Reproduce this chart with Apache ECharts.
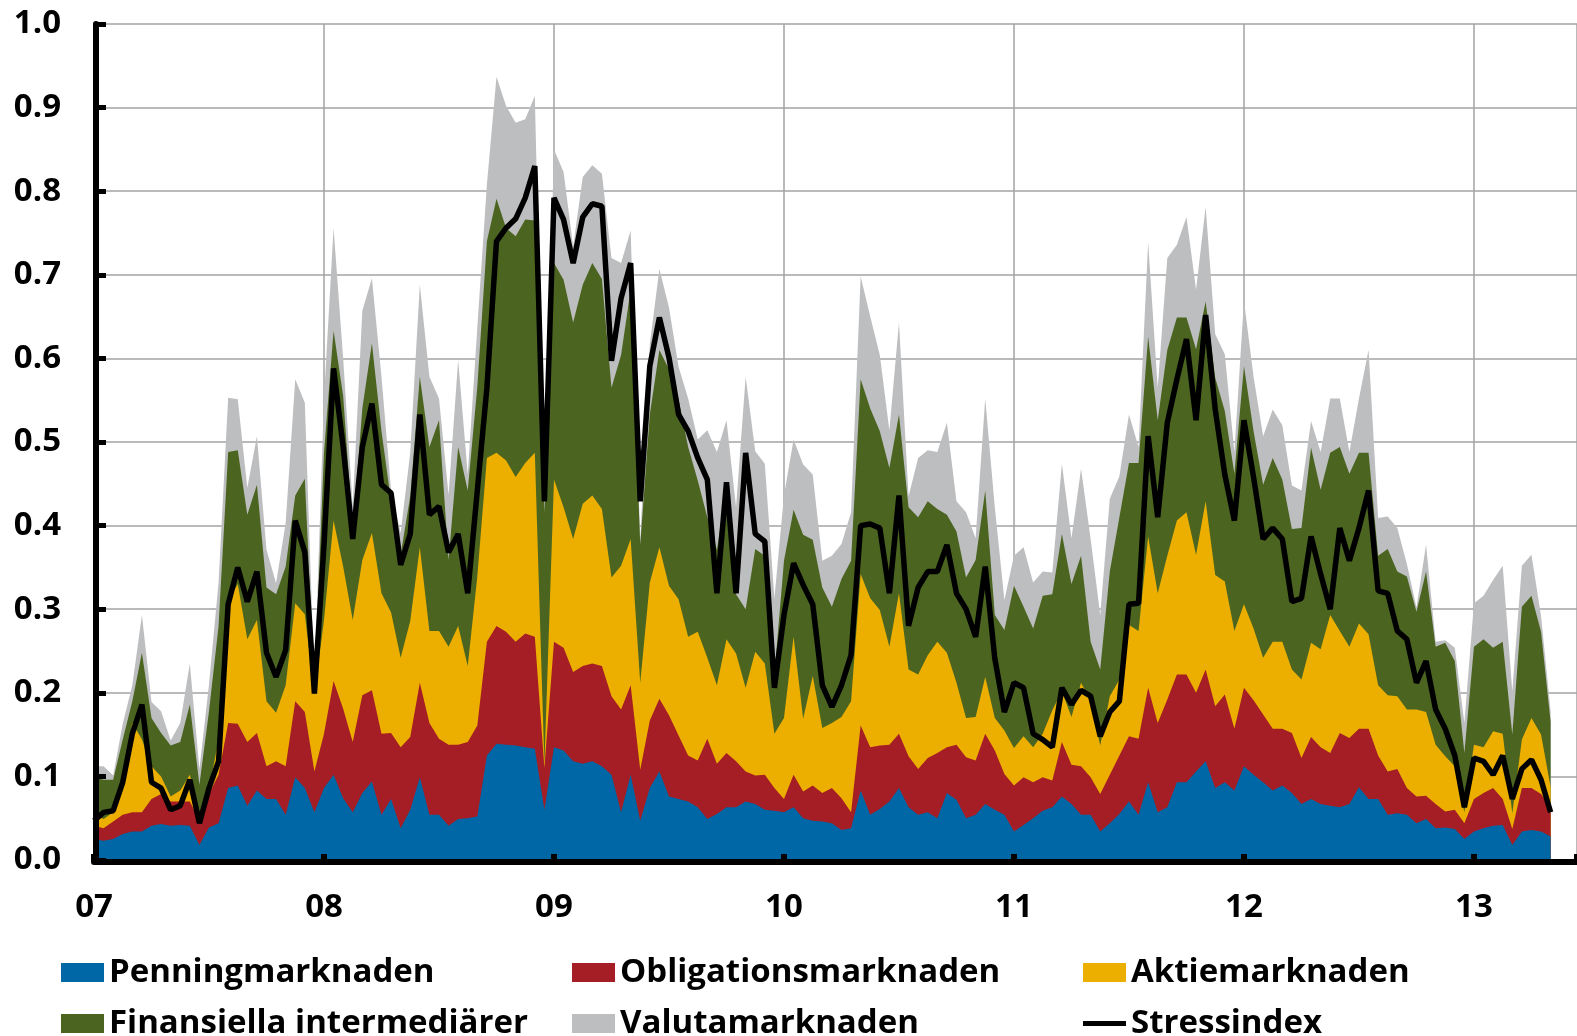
<!DOCTYPE html>
<html><head><meta charset="utf-8">
<script src="https://cdn.jsdelivr.net/npm/echarts@6/dist/echarts.min.js"></script>
<style>html,body{margin:0;padding:0;background:#fff}#c{width:1577px;height:1036px}</style>
</head><body><div id="c"></div>
<script>
// Half-monthly readings, Jan 2007 – mid 2013
const penning = [0.025,0.023,0.025,0.031,0.034,0.034,0.041,0.043,0.041,0.042,
0.041,0.018,0.039,0.044,0.086,0.089,0.065,0.083,0.073,0.073,
0.054,0.099,0.086,0.057,0.086,0.102,0.074,0.057,0.080,0.094,
0.054,0.073,0.038,0.060,0.099,0.054,0.054,0.041,0.049,0.050,
0.052,0.125,0.139,0.138,0.137,0.135,0.133,0.060,0.135,0.131,
0.118,0.115,0.118,0.112,0.102,0.057,0.102,0.047,0.086,0.106,
0.076,0.073,0.070,0.063,0.049,0.055,0.063,0.063,0.070,0.067,
0.060,0.059,0.057,0.063,0.050,0.047,0.046,0.044,0.036,0.038,
0.083,0.054,0.061,0.070,0.086,0.063,0.054,0.057,0.050,0.080,
0.072,0.050,0.054,0.067,0.060,0.054,0.034,0.042,0.050,0.059,
0.063,0.076,0.067,0.054,0.054,0.034,0.044,0.055,0.070,0.054,
0.093,0.057,0.063,0.093,0.093,0.106,0.118,0.086,0.093,0.083,
0.112,0.102,0.093,0.083,0.089,0.080,0.067,0.073,0.067,0.065,
0.063,0.067,0.087,0.073,0.073,0.054,0.056,0.054,0.044,0.049,
0.038,0.039,0.037,0.025,0.034,0.038,0.041,0.042,0.018,0.034,
0.036,0.034,0.028];
const obligation = [0.016,0.015,0.021,0.023,0.023,0.023,0.032,0.036,0.029,0.028,
0.029,0.029,0.040,0.058,0.078,0.074,0.076,0.069,0.039,0.045,
0.058,0.091,0.091,0.049,0.065,0.112,0.107,0.084,0.117,0.109,
0.097,0.079,0.097,0.087,0.113,0.110,0.091,0.097,0.089,0.091,
0.109,0.136,0.141,0.135,0.124,0.136,0.134,0.050,0.126,0.123,
0.107,0.117,0.117,0.120,0.094,0.123,0.107,0.061,0.081,0.087,
0.097,0.076,0.055,0.056,0.096,0.060,0.065,0.055,0.036,0.034,
0.042,0.027,0.016,0.039,0.032,0.042,0.034,0.042,0.038,0.019,
0.078,0.081,0.076,0.068,0.065,0.061,0.055,0.065,0.078,0.055,
0.066,0.073,0.065,0.084,0.071,0.049,0.055,0.057,0.043,0.040,
0.032,0.065,0.047,0.058,0.045,0.045,0.058,0.070,0.078,0.091,
0.113,0.107,0.129,0.129,0.129,0.094,0.110,0.098,0.105,0.074,
0.094,0.089,0.081,0.074,0.068,0.072,0.055,0.074,0.068,0.063,
0.089,0.079,0.070,0.084,0.052,0.052,0.053,0.032,0.032,0.028,
0.029,0.019,0.023,0.019,0.039,0.042,0.045,0.031,0.019,0.052,
0.050,0.045,0.034];
const aktie = [0.013,0.011,0.011,0.032,0.107,0.087,0.039,0.021,0.006,0.013,
0.032,0.004,0.005,0.042,0.146,0.167,0.123,0.135,0.078,0.058,
0.097,0.117,0.117,0.091,0.136,0.192,0.170,0.146,0.162,0.188,
0.168,0.144,0.107,0.139,0.162,0.110,0.129,0.117,0.142,0.091,
0.178,0.220,0.207,0.205,0.197,0.204,0.220,0.005,0.194,0.168,
0.159,0.194,0.201,0.188,0.142,0.172,0.175,0.104,0.165,0.181,
0.155,0.163,0.142,0.154,0.097,0.094,0.136,0.129,0.100,0.148,
0.133,0.065,0.097,0.165,0.087,0.131,0.078,0.078,0.097,0.133,
0.181,0.178,0.162,0.117,0.168,0.104,0.113,0.123,0.133,0.113,
0.074,0.047,0.052,0.068,0.039,0.052,0.045,0.049,0.042,0.052,
0.084,0.061,0.057,0.100,0.091,0.058,0.094,0.091,0.133,0.129,
0.181,0.155,0.172,0.184,0.194,0.165,0.201,0.157,0.135,0.117,
0.100,0.086,0.068,0.104,0.104,0.076,0.094,0.113,0.117,0.165,
0.122,0.109,0.126,0.113,0.084,0.091,0.087,0.094,0.104,0.100,
0.071,0.066,0.052,0.013,0.065,0.055,0.068,0.078,0.019,0.058,
0.084,0.071,0.025];
const finans = [0.045,0.047,0.039,0.058,0.026,0.104,0.058,0.052,0.061,0.058,
0.084,0.039,0.094,0.136,0.178,0.160,0.149,0.162,0.136,0.142,
0.142,0.129,0.162,0.010,0.200,0.227,0.204,0.107,0.181,0.227,
0.194,0.133,0.123,0.149,0.204,0.220,0.252,0.104,0.214,0.210,
0.227,0.259,0.304,0.278,0.288,0.291,0.278,0.300,0.259,0.272,
0.259,0.262,0.278,0.275,0.227,0.252,0.298,0.165,0.201,0.236,
0.259,0.239,0.227,0.181,0.168,0.162,0.184,0.071,0.094,0.123,
0.129,0.071,0.188,0.152,0.220,0.163,0.168,0.139,0.165,0.168,
0.233,0.227,0.214,0.214,0.214,0.194,0.188,0.184,0.159,0.165,
0.181,0.168,0.188,0.223,0.123,0.120,0.194,0.155,0.142,0.165,
0.139,0.188,0.159,0.152,0.071,0.091,0.149,0.194,0.194,0.201,
0.239,0.207,0.246,0.243,0.233,0.246,0.239,0.236,0.204,0.188,
0.285,0.236,0.207,0.220,0.194,0.168,0.181,0.233,0.191,0.194,
0.220,0.207,0.204,0.217,0.155,0.175,0.149,0.159,0.117,0.168,
0.117,0.136,0.126,0.071,0.117,0.129,0.100,0.110,0.094,0.159,
0.146,0.123,0.078];
const valuta = [0.013,0.016,0.005,0.019,0.019,0.045,0.019,0.026,0.006,0.023,
0.049,0.019,0.032,0.052,0.065,0.061,0.032,0.058,0.045,0.013,
0.052,0.139,0.091,0.006,0.065,0.123,0.045,0.029,0.117,0.078,
0.065,0.013,0.026,0.052,0.110,0.084,0.026,0.078,0.104,0.019,
0.071,0.068,0.146,0.146,0.136,0.120,0.149,0.020,0.136,0.129,
0.091,0.129,0.117,0.126,0.155,0.110,0.071,0.006,0.084,0.097,
0.074,0.039,0.058,0.049,0.104,0.117,0.078,0.104,0.278,0.117,
0.110,0.091,0.078,0.084,0.084,0.078,0.032,0.061,0.042,0.058,
0.123,0.110,0.091,0.045,0.110,0.013,0.071,0.061,0.068,0.110,
0.036,0.078,0.026,0.110,0.129,0.036,0.036,0.071,0.055,0.029,
0.026,0.084,0.055,0.104,0.123,0.065,0.087,0.049,0.058,0.019,
0.113,0.039,0.110,0.087,0.120,0.071,0.113,0.052,0.068,0.026,
0.078,0.065,0.058,0.058,0.065,0.052,0.045,0.032,0.045,0.065,
0.058,0.026,0.065,0.123,0.045,0.039,0.052,0.015,0.005,0.032,
0.006,0.003,0.016,0.036,0.052,0.052,0.081,0.091,0.052,0.049,
0.049,0.019,0.013];
const stress = [0.047,0.057,0.059,0.093,0.151,0.186,0.093,0.086,0.060,0.065,
0.096,0.044,0.086,0.118,0.306,0.350,0.309,0.345,0.248,0.219,
0.251,0.406,0.368,0.199,0.377,0.588,0.494,0.384,0.494,0.546,
0.449,0.439,0.353,0.390,0.533,0.413,0.423,0.368,0.390,0.319,
0.442,0.565,0.740,0.756,0.767,0.792,0.830,0.429,0.792,0.766,
0.714,0.769,0.785,0.782,0.597,0.672,0.714,0.429,0.591,0.649,
0.601,0.533,0.513,0.481,0.455,0.319,0.452,0.319,0.487,0.390,
0.381,0.206,0.293,0.355,0.329,0.306,0.209,0.183,0.209,0.245,
0.400,0.402,0.397,0.319,0.436,0.280,0.326,0.345,0.345,0.377,
0.319,0.300,0.267,0.351,0.241,0.177,0.212,0.206,0.151,0.144,
0.135,0.206,0.186,0.203,0.196,0.148,0.177,0.190,0.306,0.307,
0.507,0.410,0.523,0.575,0.623,0.526,0.652,0.539,0.461,0.406,
0.526,0.458,0.384,0.397,0.384,0.309,0.313,0.387,0.342,0.300,
0.397,0.358,0.397,0.442,0.322,0.319,0.274,0.264,0.212,0.238,
0.180,0.157,0.125,0.063,0.122,0.118,0.102,0.125,0.073,0.109,
0.120,0.096,0.057];

const seriesNames = ['Penningmarknaden','Obligationsmarknaden','Aktiemarknaden','Finansiella intermediärer','Valutamarknaden','Stressindex'];
const yearLabels = ['07','08','09','10','11','12','13'];
const FIRST_YEAR = 7;          // x axis: years since 2000
const PERIODS_PER_YEAR = 24;   // half-monthly observations

const xOf = i => FIRST_YEAR + i / PERIODS_PER_YEAR;
const pair = arr => arr.map((v, i) => [xOf(i), v]);

// stacked tops: each layer is drawn from 0 up to its cumulative top,
// lower layers painted over higher ones -> identical to a stacked area chart
const layers = [penning, obligation, aktie, finans, valuta];
const cumTops = layers.map((_, k) => stress.map((_, i) => {
  let s = 0; for (let j = 0; j <= k; j++) s += layers[j][i]; return +s.toFixed(4);
}));

const FONT = "'Open Sans', sans-serif";
const colors = ['#0067a6', '#a51d25', '#ecaf00', '#4b6520', '#bdbec0', '#000000'];

const areaSeries = k => ({
  name: seriesNames[k], type: 'line', data: pair(cumTops[k]),
  symbol: 'none', showSymbol: false,
  lineStyle: { width: 0, color: colors[k] }, itemStyle: { color: colors[k] },
  areaStyle: { color: colors[k], opacity: 1, origin: 'start' },
  emphasis: { disabled: true }, z: 7 - k
});

const chart = echarts.init(document.getElementById('c'), null, { renderer: 'canvas' });

const txt = { fontSize: 33, fontWeight: 'bold', color: '#000', fontFamily: FONT };
const legendBase = { orient: 'horizontal', itemGap: 0, itemWidth: 43, itemHeight: 19,
  selectedMode: false, padding: 0, textStyle: Object.assign({}, txt), itemStyle: { borderWidth: 0 } };
const legendPos = [[61, 956], [572, 956], [1083, 956], [61, 1007], [572, 1007], [1083, 1007]];

const option = {
  animation: false,
  backgroundColor: '#fff',
  grid: { left: 94, right: 0, top: 24, bottom: 176, containLabel: false },
  xAxis: [{
    type: 'value', min: 7, max: 13.448, interval: 1,
    axisLine: { show: false }, axisTick: { show: false },
    splitLine: { show: true, lineStyle: { color: '#a3a3a3', width: 1.5 } },
    axisLabel: Object.assign({ margin: 31, showMaxLabel: false,
      formatter: v => Number.isInteger(v) ? yearLabels[v - FIRST_YEAR] : '' }, txt)
  }, {
    type: 'value', min: 7, max: 13.448, interval: 1, position: 'bottom', z: 10, offset: 2,
    axisLine: { show: true, onZero: false, lineStyle: { color: '#000', width: 6 } },
    axisTick: { show: true, inside: true, length: 8, lineStyle: { color: '#000', width: 6 } },
    axisLabel: { show: false }, splitLine: { show: false }
  }],
  yAxis: [{
    type: 'value', min: 0, max: 1, interval: 0.1,
    axisLine: { show: false }, axisTick: { show: false },
    splitLine: { show: true, lineStyle: { color: '#a3a3a3', width: 1.5 } },
    axisLabel: Object.assign({ margin: 33, formatter: v => v.toFixed(1) }, txt)
  }, {
    type: 'value', min: 0, max: 1, interval: 0.1, position: 'left', z: 10, offset: -2,
    axisLine: { show: true, onZero: false, lineStyle: { color: '#000', width: 6 } },
    axisTick: { show: true, inside: true, length: 10, lineStyle: { color: '#000', width: 5 } },
    axisLabel: { show: false }, splitLine: { show: false }
  }],
  legend: seriesNames.map((n, k) => Object.assign({}, legendBase, {
    data: [{ name: n, icon: 'rect' }], left: legendPos[k][0], top: legendPos[k][1],
    itemHeight: k === 5 ? 5 : 19
  })),
  series: [
    areaSeries(0), areaSeries(1), areaSeries(2), areaSeries(3), areaSeries(4),
    { name: seriesNames[5], type: 'line', data: pair(stress), symbol: 'none', showSymbol: false,
      lineStyle: { width: 5.5, color: '#000' }, itemStyle: { color: '#000' },
      emphasis: { disabled: true }, z: 9 }
  ]
};
chart.setOption(option);
</script></body></html>
